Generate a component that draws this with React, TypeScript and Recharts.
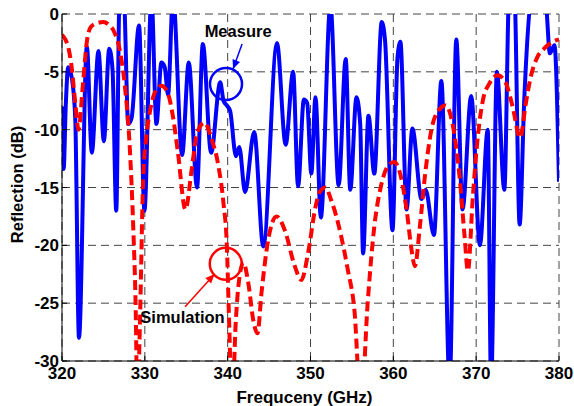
import React from "react"
import { LineChart, Line, XAxis, YAxis, CartesianGrid, ReferenceDot, ReferenceLine } from "recharts"

// measured reflection (blue solid)
const measureFreq = [
  320.0, 320.2, 320.45, 320.75, 321.2, 321.6, 322.05, 323.0, 323.6, 324.4, 325.05, 325.7, 326.1, 326.55,
  326.95, 327.2, 327.45, 328.0, 328.4, 329.3, 329.95, 330.8, 331.4, 332.0, 332.4, 332.8, 333.4, 334.5,
  335.3, 336.3, 337.0, 338.0, 339.1, 339.5, 339.9, 340.3, 341.0, 341.4, 342.1, 343.2, 344.3, 345.95,
  347.0, 347.9, 348.5, 349.2, 349.6, 350.1, 350.6, 351.25, 352.4, 353.4, 354.25, 354.8, 355.55, 356.0,
  356.35, 357.0, 357.7, 358.6, 359.0, 359.9, 360.5, 360.85, 361.6, 362.3, 363.4, 363.9, 364.9, 365.8,
  366.8, 367.6, 368.35, 369.4, 370.45, 371.4, 371.8, 372.5, 373.4, 374.0, 374.6, 375.25, 375.8, 376.7,
  377.5, 378.4, 378.9, 379.45, 380.0,
]
const measureDb = [
  -8.0, -13.4, -8.0, -4.6, -5.6, -9.0, -28.0, -2.8, -12.0, -3.2, -11.0, -3.0, -4.8, -17.0,
  1.5, 0.8, 1.5, -9.5, -9.0, -1.0, -17.0, 1.5, -9.5, -4.2, -4.6, -7.0, 1.5, -12.2,
  -4.2, -15.0, -2.6, -12.0, -5.9, -7.5, -7.9, -8.4, -12.3, -11.5, -15.4, -10.2, -20.1, -2.5,
  -11.3, -5.0, -14.9, -7.4, -7.7, -13.8, -7.2, -17.6, 0.8, -14.8, -3.9, -15.2, -7.2, -9.5,
  -20.7, -8.8, -13.8, -0.7, -2.3, -18.7, -3.8, -2.4, -16.9, -9.9, -16.0, -15.2, -19.1, -5.8,
  -32.0, -2.2, -16.9, -7.1, -20.0, -10.0, -32.0, -5.0, -15.2, 2.0, 2.0, -18.2, -7.5, 1.5,
  2.0, 1.0, -3.4, -2.7, -14.5,
]

// simulated reflection (red dashed)
const simFreq = [
  320.0, 320.4, 320.8, 321.2, 321.6, 322.0, 322.5, 323.0, 323.5, 324.2, 325.0, 325.6, 326.4, 327.0,
  327.6, 328.2, 328.6, 328.9, 329.1, 329.4, 329.8, 330.2, 330.6, 331.2, 332.0, 332.8, 333.4, 334.0,
  334.9, 335.7, 336.3, 337.2, 338.1, 338.9, 339.5, 339.9, 340.15, 340.55, 340.95, 341.3, 341.9, 342.5,
  343.1, 343.6, 344.1, 344.9, 345.9, 346.9, 348.1, 348.9, 349.7, 350.6, 351.1, 351.8, 352.5, 353.7,
  354.5, 355.3, 356.1, 356.9, 357.7, 358.5, 359.3, 360.1, 360.7, 361.6, 362.2, 362.6, 363.2, 363.8,
  364.6, 365.5, 366.3, 367.2, 368.0, 368.6, 369.0, 369.6, 370.2, 370.8, 371.6, 372.6, 373.6, 374.4,
  375.3, 376.0, 376.6, 377.4, 378.2, 379.0, 380.0,
]
const simDb = [
  -1.8, -2.2, -3.0, -4.8, -7.7, -10.0, -6.3, -2.4, -1.1, -0.8, -0.7, -0.9, -1.7, -3.2,
  -6.3, -11.8, -18.4, -25.6, -34.0, -27.0, -14.3, -10.5, -8.5, -6.8, -6.2, -6.9, -8.9, -12.0,
  -16.9, -13.2, -10.3, -9.4, -10.9, -13.2, -16.4, -20.0, -26.0, -34.0, -27.0, -23.5, -21.5, -23.3,
  -26.5, -27.6, -24.0, -19.5, -17.5, -18.7, -21.8, -23.0, -20.7, -16.7, -15.4, -15.0, -16.1, -19.2,
  -22.1, -25.6, -34.0, -25.0, -18.4, -14.9, -13.2, -12.8, -13.5, -16.9, -20.4, -21.8, -18.4, -14.1,
  -10.0, -8.3, -7.9, -9.7, -14.1, -19.2, -22.2, -15.8, -10.6, -7.5, -6.0, -5.3, -6.0, -8.0,
  -10.7, -7.7, -5.4, -3.7, -3.0, -2.5, -2.2,
]

const xTicks = [320, 330, 340, 350, 360, 370, 380]
const yTicks = [-30, -25, -20, -15, -10, -5, 0]

const measureData = measureFreq.map((x, i) => ({ x, y: measureDb[i] }))
const simData = simFreq.map((x, i) => ({ x, y: simDb[i] }))

const tickStyle = { fontSize: 17, fontWeight: "bold", fill: "#000" }

// arrow head drawn at the dot position, pointing along (dx, dy) in pixels
const arrowHead = (dx: number, dy: number, color: string) => (p: any) => {
  const len = Math.hypot(dx, dy)
  const ux = dx / len
  const uy = dy / len
  const bx = p.cx - ux * 9
  const by = p.cy - uy * 9
  const pts = `${p.cx},${p.cy} ${bx - uy * 4},${by + ux * 4} ${bx + uy * 4},${by - ux * 4}`
  return <polygon points={pts} fill={color} />
}

const label = (text: string) => (p: any) => (
  <text x={p.cx} y={p.cy} textAnchor="middle" dominantBaseline="central" fontSize={16.5} fontWeight="bold" fill="#000">
    {text}
  </text>
)

export default function App() {
  return (
    <div style={{ position: "absolute", left: 0, top: 0, fontFamily: "'Liberation Sans', Arial, sans-serif" }}>
      <LineChart width={574} height={406} margin={{ top: 14, right: 15, bottom: 15, left: 12 }}>
        <CartesianGrid stroke="#444" strokeDasharray="8 5" />
        <XAxis
          dataKey="x"
          type="number"
          domain={[320, 380]}
          ticks={xTicks}
          allowDataOverflow
          height={30}
          stroke="#000"
          tickSize={-5}
          tickMargin={11}
          tick={tickStyle}
          label={{
            content: ({ viewBox }: any) => (
              <text x={viewBox.x + viewBox.width / 2 - 6} y={403} textAnchor="middle" fontSize={17} fontWeight="bold" fill="#000">
                Frequceny (GHz)
              </text>
            ),
          }}
        />
        <XAxis xAxisId="top" orientation="top" type="number" domain={[320, 380]} ticks={xTicks} height={0} stroke="#000" tickSize={-5} tick={false} />
        <YAxis
          type="number"
          domain={[-30, 0]}
          ticks={yTicks}
          allowDataOverflow
          width={50}
          stroke="#000"
          tickSize={-5}
          tickMargin={8}
          tick={tickStyle}
          label={{
            content: ({ viewBox }: any) => {
              const cy = viewBox.y + viewBox.height / 2 - 3
              return (
                <text x={23} y={cy} transform={`rotate(-90 23 ${cy})`} textAnchor="middle" fontSize={16.5} fontWeight="bold" fill="#000">
                  Reflection (dB)
                </text>
              )
            },
          }}
        />
        <YAxis yAxisId="right" orientation="right" type="number" domain={[-30, 0]} ticks={yTicks} width={0} stroke="#000" tickSize={-5} tick={false} />

        <Line data={measureData} dataKey="y" type="monotone" stroke="#0000ff" strokeWidth={4} dot={false} isAnimationActive={false} />
        <Line data={simData} dataKey="y" type="monotone" stroke="#ff0000" strokeWidth={4} strokeDasharray="10 5" dot={false} isAnimationActive={false} />

        <ReferenceDot x={339.8} y={-6.05} r={16} fill="none" stroke="#0000ff" strokeWidth={2.5} />
        <ReferenceLine segment={[{ x: 341.74, y: -2.59 }, { x: 340.65, y: -4.75 }]} stroke="#0000ff" strokeWidth={1.5} />
        <ReferenceDot x={340.65} y={-4.75} shape={arrowHead(-10, 26, "#0000ff")} />
        <ReferenceDot x={341.26} y={-1.47} shape={label("Measure")} />

        <ReferenceDot x={339.77} y={-21.6} r={16} fill="none" stroke="#ff0000" strokeWidth={2.5} />
        <ReferenceLine segment={[{ x: 334.86, y: -25.3 }, { x: 338.4, y: -22.5 }]} stroke="#ff0000" strokeWidth={1.5} />
        <ReferenceDot x={338.4} y={-22.5} shape={arrowHead(30, -32, "#ff0000")} />
        <ReferenceDot x={334.55} y={-26.23} shape={label("Simulation")} />
      </LineChart>
    </div>
  )
}
